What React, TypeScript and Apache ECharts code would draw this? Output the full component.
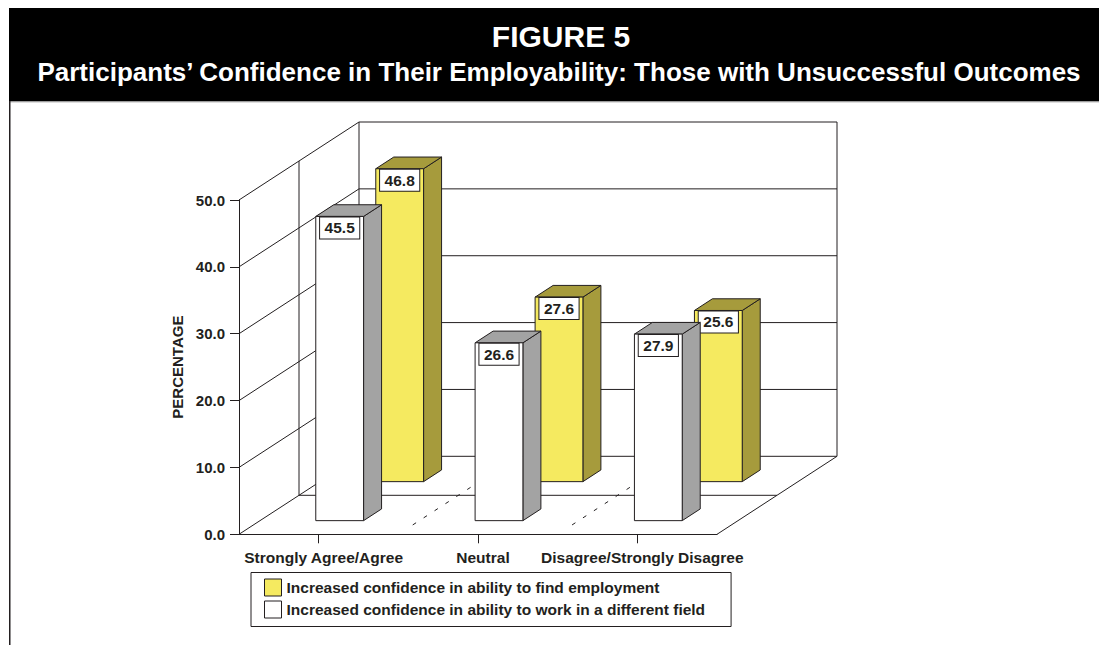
import React, { useEffect, useRef } from 'react';
import * as echarts from 'echarts';

// ---------- data ----------
const categories = ['Strongly Agree/Agree', 'Neutral', 'Disagree/Strongly Disagree'];
const findEmployment = [46.8, 27.6, 25.6];
const differentField = [45.5, 26.6, 27.9];
const yTicks = [0, 10, 20, 30, 40, 50];
const seriesNames = [
  'Increased confidence in ability to find employment',
  'Increased confidence in ability to work in a different field',
];
const titleText = 'FIGURE 5';
const subtitleText = 'Participants’ Confidence in Their Employability: Those with Unsuccessful Outcomes';
const yAxisName = 'PERCENTAGE';

// ---------- style ----------
const FONT = '"Liberation Sans", Arial, Helvetica, sans-serif';
const INK = '#231f20';
const YELLOW = '#f5ea60';
const OLIVE = '#a69b3c';
const GRAY = '#a3a3a3';
const DX = 120; // depth projection
const DY = -78;

function barRenderer(depth0: number, depthLen: number, front: string, side: string, top: string) {
  return (params: any, api: any) => {
    const cat = api.value(0);
    const val = api.value(1);
    const pTop = api.coord([cat, val]);
    const pBase = api.coord([cat, 0]);
    const bw = api.size([1, 0])[0] * 0.3;
    const ox = DX * depth0, oy = DY * depth0;
    const dx = DX * depthLen, dy = DY * depthLen;
    const xl = pTop[0] - bw / 2 + ox;
    const xr = pTop[0] + bw / 2 + ox;
    const yt = pTop[1] + oy;
    const yb = pBase[1] + oy;
    const st = { stroke: INK, lineWidth: 1 };
    return {
      type: 'group',
      children: [
        { type: 'polygon', shape: { points: [[xr, yt], [xr + dx, yt + dy], [xr + dx, yb + dy], [xr, yb]] }, style: { fill: side, ...st } },
        { type: 'polygon', shape: { points: [[xl, yt], [xr, yt], [xr + dx, yt + dy], [xl + dx, yt + dy]] }, style: { fill: top, ...st } },
        { type: 'rect', shape: { x: xl, y: yt, width: xr - xl, height: yb - yt }, style: { fill: front, ...st } },
        {
          type: 'text',
          x: (xl + xr) / 2,
          y: yt + 1,
          style: {
            text: Number(val).toFixed(1),
            fill: INK,
            font: `bold 15.5px ${FONT}`,
            align: 'center',
            verticalAlign: 'top',
            lineHeight: 17,
            backgroundColor: '#ffffff',
            borderColor: INK,
            borderWidth: 1,
            padding: [2, 4.5, 2, 4.5],
          },
        },
      ],
    };
  };
}

function frameRenderer(params: any, api: any) {
  const cs = params.coordSys;
  const x = cs.x, y = cs.y, w = cs.width, h = cs.height;
  const yb = y + h;
  const ls = { stroke: INK, lineWidth: 1, fill: null };
  const children: any[] = [
    { type: 'line', shape: { x1: x + DX, y1: y + DY, x2: x + DX, y2: yb + DY }, style: ls },
    { type: 'line', shape: { x1: x + w + DX, y1: y + DY, x2: x + w + DX, y2: yb + DY }, style: ls },
    { type: 'line', shape: { x1: x + DX / 2, y1: y + DY / 2, x2: x + DX / 2, y2: yb + DY / 2 }, style: ls },
    { type: 'line', shape: { x1: x + DX / 2, y1: yb + DY / 2, x2: x + w + DX / 2, y2: yb + DY / 2 }, style: ls },
    { type: 'line', shape: { x1: x + w, y1: yb, x2: x + w + DX, y2: yb + DY }, style: ls },
  ];
  for (let k = 1; k < categories.length; k++) {
    const bx = x + (w * k) / categories.length;
    children.push({
      type: 'line',
      shape: { x1: bx + DX * 0.12, y1: yb + DY * 0.12, x2: bx + DX * 0.62, y2: yb + DY * 0.62 },
      style: { stroke: INK, lineWidth: 1, lineDash: [4, 9] },
    });
  }
  return { type: 'group', children };
}

function gridRenderer(params: any, api: any) {
  const cs = params.coordSys;
  const v = api.value(1);
  const yv = api.coord([0, v])[1];
  const ls = { stroke: INK, lineWidth: 1 };
  return {
    type: 'group',
    children: [
      { type: 'line', shape: { x1: cs.x, y1: yv, x2: cs.x + DX, y2: yv + DY }, style: ls },
      { type: 'line', shape: { x1: cs.x + DX, y1: yv + DY, x2: cs.x + cs.width + DX, y2: yv + DY }, style: ls },
    ],
  };
}

export default function App() {
  const ref = useRef<HTMLDivElement>(null);
  useEffect(() => {
    if (!ref.current) return;
    const chart = echarts.init(ref.current, undefined, { renderer: 'svg' });
    const labelFont = { fontFamily: FONT, fontWeight: 'bold' as const, fontSize: 15.5, color: INK };
    chart.setOption({
      animation: false,
      backgroundColor: '#ffffff',
      graphic: [
        { type: 'rect', shape: { x: 9, y: 8, width: 1090, height: 93.5 }, style: { fill: '#000000' }, z: 0 },
        { type: 'line', shape: { x1: 9, y1: 102, x2: 1099, y2: 102 }, style: { stroke: '#bdbdbd', lineWidth: 1 } },
        { type: 'line', shape: { x1: 9.75, y1: 101, x2: 9.75, y2: 645 }, style: { stroke: INK, lineWidth: 1.5 } },
        {
          type: 'text', x: 561, y: 36,
          style: { text: titleText, fill: '#ffffff', font: `bold 30px ${FONT}`, align: 'center', verticalAlign: 'middle' },
        },
        {
          type: 'text', x: 559, y: 72,
          style: { text: subtitleText, fill: '#ffffff', font: `bold 26px ${FONT}`, align: 'center', verticalAlign: 'middle' },
        },
      ],
      grid: { left: 239, top: 200, width: 478, height: 334.3, containLabel: false },
      xAxis: {
        type: 'category',
        data: categories,
        axisLine: { show: true, lineStyle: { color: INK, width: 1 } },
        axisTick: { show: true, alignWithLabel: true, length: 9, lineStyle: { color: INK } },
        axisLabel: { interval: 0, margin: 15, padding: [0, 0, 0, 10], ...labelFont },
        splitLine: { show: false },
      },
      yAxis: {
        type: 'value',
        min: 0,
        max: 50,
        interval: 10,
        axisLine: { show: true, lineStyle: { color: INK, width: 1 } },
        axisTick: { show: true, length: 9, lineStyle: { color: INK } },
        axisLabel: { margin: 14, formatter: (v: number) => v.toFixed(1), ...labelFont, fontSize: 15 },
        splitLine: { show: false },
        name: yAxisName,
        nameLocation: 'middle',
        nameRotate: 90,
        nameGap: 54,
        nameTextStyle: { fontFamily: FONT, fontWeight: 'bold', fontSize: 15, color: INK },
      },
      legend: {
        data: [
          { name: seriesNames[0], itemStyle: { color: YELLOW, borderColor: INK, borderWidth: 1 } },
          { name: seriesNames[1], itemStyle: { color: '#ffffff', borderColor: INK, borderWidth: 1 } },
        ],
        orient: 'vertical',
        left: 251,
        top: 572.5,
        icon: 'rect',
        itemWidth: 17,
        itemHeight: 17,
        itemGap: 4,
        padding: [6, 26, 8, 13],
        borderColor: INK,
        borderWidth: 1,
        backgroundColor: '#ffffff',
        selectedMode: false,
        textStyle: { fontFamily: FONT, fontWeight: 'bold', fontSize: 15.5, color: INK },
      },
      series: [
        {
          type: 'custom',
          name: 'frame',
          clip: false,
          silent: true,
          renderItem: frameRenderer,
          data: [[0, 0]],
          encode: { x: 0, y: 1 },
        },
        {
          type: 'custom',
          name: 'grid',
          clip: false,
          silent: true,
          renderItem: gridRenderer,
          data: yTicks.map((v) => [0, v]),
          encode: { x: 0, y: 1 },
        },
        {
          type: 'custom',
          name: seriesNames[0],
          clip: false,
          itemStyle: { color: YELLOW, borderColor: INK },
          renderItem: barRenderer(0.675, 0.15, YELLOW, OLIVE, OLIVE),
          data: findEmployment.map((v, i) => [i, v]),
          encode: { x: 0, y: 1 },
        },
        {
          type: 'custom',
          name: seriesNames[1],
          clip: false,
          itemStyle: { color: '#ffffff', borderColor: INK },
          renderItem: barRenderer(0.175, 0.15, '#ffffff', GRAY, GRAY),
          data: differentField.map((v, i) => [i, v]),
          encode: { x: 0, y: 1 },
        },
      ],
    });
    return () => chart.dispose();
  }, []);
  return (
    <div
      ref={ref}
      style={{ position: 'absolute', left: 0, top: 0, width: 1099, height: 645 }}
    />
  );
}
